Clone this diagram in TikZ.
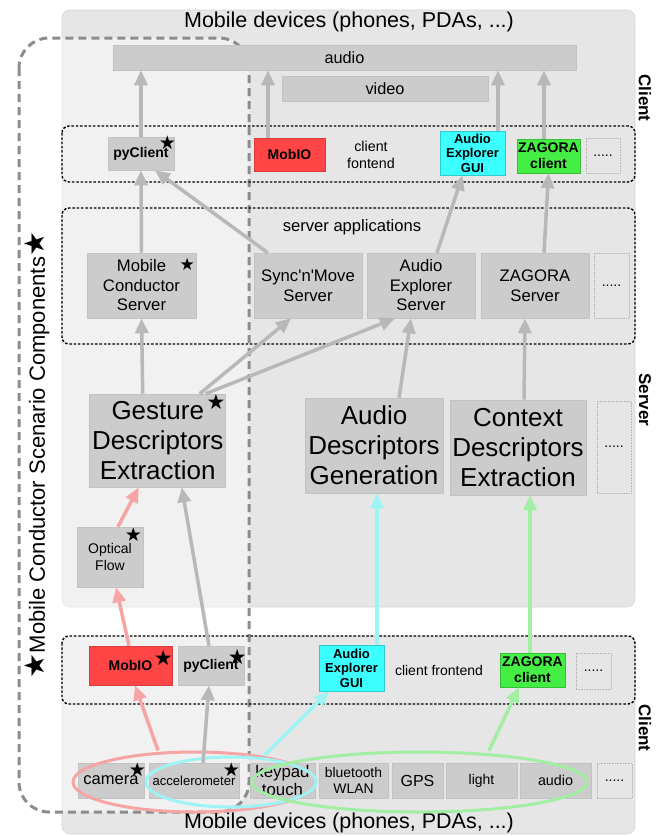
\documentclass[tikz,border=0pt]{standalone}
\usepackage{xcolor}
\usepackage{fontspec}
\usepackage{tikz}
\usetikzlibrary{arrows.meta,shapes.geometric}

\setmainfont{Liberation Sans}
\newfontfamily\symfont{DejaVu Sans}
\newcommand{\fsz}[2]{\fontsize{#1}{#2}\selectfont}
\newcommand{\starsym}{{\symfont ★}}

\definecolor{panelgray}{HTML}{E6E6E6}
\definecolor{paneledge}{HTML}{D4D4D4}
\definecolor{boxgray}{HTML}{CCCCCC}
\definecolor{boxedge}{HTML}{C2C2C2}
\definecolor{dotedge}{HTML}{B5B5B5}
\definecolor{mobred}{HTML}{FF4545}
\definecolor{guicyan}{HTML}{3CFFFF}
\definecolor{zaggreen}{HTML}{44EE44}
\definecolor{arrgray}{HTML}{B8B8B8}
\definecolor{arrpink}{HTML}{F7A4A4}
\definecolor{arrcyan}{HTML}{9EF4F4}
\definecolor{arrgreen}{HTML}{A2EEA2}
\definecolor{regiondash}{HTML}{8C8C8C}

\tikzset{
  panel/.style={fill=panelgray, draw=paneledge, line width=.6pt, rounded corners=8pt},
  frontframe/.style={draw=black, line width=1.4pt, dash pattern=on 2.5pt off 1.8pt, rounded corners=7pt},
  wh/.style 2 args={minimum width=#1pt, minimum height=#2pt},
  box/.style={draw=boxedge, fill=boxgray, line width=.6pt, inner sep=0pt, align=center},
  dotbox/.style={draw=dotedge, densely dotted, line width=.6pt, inner sep=0pt, font=\fsz{14}{16}},
  flow/.style={-{Triangle[length=15pt,width=13pt]}, line width=3.5pt, draw=arrgray},
  starlbl/.style={inner sep=0pt, font=\fsz{19}{19}},
  ring/.style={ellipse, line width=3pt, inner sep=0pt},
  sidelbl/.style={rotate=-90, font=\bfseries\fsz{17}{17}},
  bigtxt/.style={font=\fsz{21.5}{24}},
  midtxt/.style={font=\fsz{16.7}{19.5}},
  hugetxt/.style={font=\fsz{26}{30}},
  tagtxt/.style={font=\bfseries\fsz{14}{16}},
}

\begin{document}
\begin{tikzpicture}[x=1pt,y=-1pt]
\useasboundingbox (0,0) rectangle (661,836);

% panels
\draw[panel] (62,10) rectangle (635,607);
\draw[panel] (62,636) rectangle (635,834);

% scenario components region
\fill[white, opacity=.45, rounded corners=30pt] (19,38) rectangle (249,812);
\draw[regiondash, line width=3pt, dash pattern=on 8pt off 5pt, rounded corners=30pt] (19,38) rectangle (249,812);

\draw[frontframe] (62,126) rectangle (635,182);
\draw[frontframe] (62,208) rectangle (635,344);
\draw[frontframe] (62,636) rectangle (635,704);

\node[bigtxt] (devTop) at (349,22) {Mobile devices (phones, PDAs, ...)};
\node[bigtxt] (devBot) at (349,823) {Mobile devices (phones, PDAs, ...)};
\node[rotate=90, font=\fsz{22}{24}] (scenario) at (37,455) {{\fsz{28}{24}\starsym}Mobile Conductor Scenario Components{\fsz{28}{24}\starsym}};

\node[sidelbl] (cliTop) at (645,98) {Client};
\node[sidelbl] (srvLbl) at (645,400) {Server};
\node[sidelbl] (cliBot) at (645,728) {Client};

% mobile devices, top
\node[box, wh={463}{25}, font=\fsz{16.3}{18}] (audioBar) at (344.5,57.5) {audio};
\node[box, wh={206}{25}, font=\fsz{16.3}{18}] (videoBar) at (385,88.5) {video};

\node[box, tagtxt, wh={66}{33}] (pyTop) at (141,153.5) {pyClient};
\node[box, tagtxt, fill=mobred, draw=mobred!85!black, wh={71}{33}] (mobTop) at (289.5,154.5) {MobIO};
\node[align=center, font=\fsz{14.3}{16.5}] (feTop) at (371,155) {client\\fontend};
\node[box, fill=guicyan, draw=guicyan!80!black, wh={65}{44}, font=\bfseries\fsz{13}{14.5}] (aeTop) at (472.5,153) {Audio\\Explorer\\GUI};
\node[box, tagtxt, fill=zaggreen, draw=zaggreen!80!black, wh={63}{34}] (zgTop) at (548.5,156) {ZAGORA\\client};
\node[dotbox, wh={34}{35}] (moreTop) at (603,155.5) {.....};
\node[starlbl] (stPyTop) at ([shift={(-7pt,-6pt)}]pyTop.north east) {\starsym};

% server applications
\node[font=\fsz{16.6}{18}] (srvApps) at (352,227) {server applications};
\node[box, midtxt, wh={109}{65}] (mcs) at (141.5,285.5) {Mobile\\Conductor\\Server};
\node[box, midtxt, wh={108}{65}] (snm) at (308,285.5) {Sync\textquotesingle n\textquotesingle Move\\Server};
\node[box, midtxt, wh={108}{65}] (aes) at (421,285.5) {Audio\\Explorer\\Server};
\node[box, midtxt, wh={108}{65}] (zs) at (535,285.5) {ZAGORA\\Server};
\node[dotbox, wh={35}{65}] (moreSrv) at (611.5,285.5) {.....};
\node[starlbl, font=\fsz{17}{17}] (stMcs) at ([shift={(-9pt,-12pt)}]mcs.north east) {\starsym};

% descriptors
\node[box, hugetxt, wh={136}{93}] (gde) at (157.75,440.5) {Gesture\\Descriptors\\Extraction};
\node[box, hugetxt, wh={138}{95}] (adg) at (374,445.5) {Audio\\Descriptors\\Generation};
\node[box, hugetxt, wh={136}{95}] (cde) at (518,447.5) {Context\\Descriptors\\Extraction};
\node[dotbox, wh={34}{92}] (moreDesc) at (614,447) {.....};
\node[box, wh={66}{60}, font=\fsz{14}{17}] (optf) at (110,557) {Optical\\Flow};
\node[starlbl, font=\fsz{21}{21}] (stGde) at ([shift={(-10pt,-8pt)}]gde.north east) {\starsym};
\node[starlbl] (stOptf) at ([shift={(-10pt,-8pt)}]optf.north east) {\starsym};

% client frontend, bottom
\node[box, tagtxt, fill=mobred, draw=mobred!85!black, wh={83}{39}] (mobBot) at (130.5,665.5) {MobIO};
\node[box, tagtxt, wh={66}{39}] (pyBot) at (211,665.5) {pyClient};
\node[box, fill=guicyan, draw=guicyan!80!black, wh={65}{46}, font=\bfseries\fsz{13}{14.5}] (aeBot) at (351.5,668) {Audio\\Explorer\\GUI};
\node[font=\fsz{14}{16}] (feBot) at (439,670) {client frontend};
\node[box, tagtxt, fill=zaggreen, draw=zaggreen!80!black, wh={65}{34}] (zgBot) at (532.5,670) {ZAGORA\\client};
\node[dotbox, wh={35}{36}] (moreFe) at (593.5,671) {.....};
\node[starlbl, font=\fsz{21}{21}] (stMobBot) at ([shift={(-9pt,-12pt)}]mobBot.north east) {\starsym};
\node[starlbl, font=\fsz{21}{21}] (stPyBot) at ([shift={(-7pt,-11pt)}]pyBot.north east) {\starsym};

% sensors
\node[box, wh={66}{35}, font=\fsz{16.5}{19}] (cam) at (111,780.5) {camera};
\node[box, wh={90}{35}, font=\fsz{13.1}{15}] (acc) at (194,780.5) {accelerometer};
\node[box, wh={65}{35}, font=\fsz{16.8}{18.5}] (keyp) at (282.5,780.5) {keypad\\touch};
\node[box, wh={69}{35}, font=\fsz{13.9}{16.5}] (blue) at (353.5,780.5) {bluetooth\\WLAN};
\node[box, wh={51}{35}, font=\fsz{16}{18}] (gps) at (417.5,780.5) {GPS};
\node[box, wh={71}{35}, font=\fsz{14}{16}] (lightS) at (481.5,780.5) {light};
\node[box, wh={71}{35}, font=\fsz{14.3}{16}] (audioS) at (555.5,780.5) {audio};
\node[dotbox, wh={35}{35}] (moreS) at (614.5,780.5) {.....};
\node[starlbl] (stCam) at ([shift={(-7pt,-7pt)}]cam.north east) {\starsym};
\node[starlbl] (stAcc) at ([shift={(-8pt,-7pt)}]acc.north east) {\starsym};

\node[ring, draw=arrpink, wh={243}{60}] (ringCam) at (194.5,782) {};
\node[ring, draw=arrcyan, wh={170}{50}] (ringAcc) at (231,782) {};
\node[ring, draw=arrgreen, wh={335}{60}] (ringEnv) at (419.5,782) {};

% connectors
\draw[flow] (pyTop.north) -- (pyTop.north |- audioBar.south);
\draw[flow] ([xshift=-21.5pt]mobTop.north) -- ([xshift=-21.5pt]mobTop.north |- audioBar.south);
\draw[flow] ([xshift=25.5pt]aeTop.north) -- ([xshift=25.5pt]aeTop.north |- audioBar.south);
\draw[flow] ([xshift=-4.5pt]zgTop.north) -- ([xshift=-4.5pt]zgTop.north |- audioBar.south);

\draw[flow] (mcs.north) -- (pyTop.south);
\draw[flow] ([xshift=14pt]snm.north west) -- ([xshift=14pt]pyTop.south);
\draw[flow] ([xshift=16pt]aes.north) -- ([xshift=-10pt]aeTop.south);
\draw[flow] ([xshift=9pt]zs.north) -- (zgTop.south);

\draw[flow] ([xshift=-15pt]gde.north) -- (mcs.south);
\draw[flow] ([xshift=42pt]gde.north) -- ([xshift=-17pt]snm.south);
\draw[flow] ([xshift=48pt]gde.north) -- ([xshift=-26pt]aes.south);
\draw[flow] ([xshift=25pt]adg.north) -- ([xshift=-10pt]aes.south);
\draw[flow] ([xshift=6pt]cde.north) -- ([xshift=-10pt]zs.south);

\draw[flow, draw=arrpink] ([xshift=8pt]optf.north) -- ([xshift=-19pt]gde.south);
\draw[flow] ([xshift=-2pt]pyBot.north) -- ([xshift=24pt]gde.south);
\draw[flow, draw=arrpink] ([xshift=-1.5pt]mobBot.north) -- ([xshift=6pt]optf.south);
\draw[flow, draw=arrcyan] ([xshift=25.5pt]aeBot.north) -- ([xshift=3pt]adg.south);
\draw[flow, draw=arrgreen] ([xshift=-2.5pt]zgBot.north) -- ([xshift=12pt]cde.south);

\draw[flow, draw=arrpink] ([xshift=-36.5pt]ringCam.north) -- ([xshift=4.5pt]mobBot.south);
\draw[flow] ([xshift=9pt]acc.north) -- ([xshift=-2pt]pyBot.south);
\draw[flow, draw=arrcyan] ([xshift=33pt]ringAcc.north) -- ([xshift=-22.5pt]aeBot.south);
\draw[flow, draw=arrgreen] ([xshift=69.5pt]ringEnv.north) -- ([xshift=-13.5pt]zgBot.south);

\end{tikzpicture}
\end{document}
